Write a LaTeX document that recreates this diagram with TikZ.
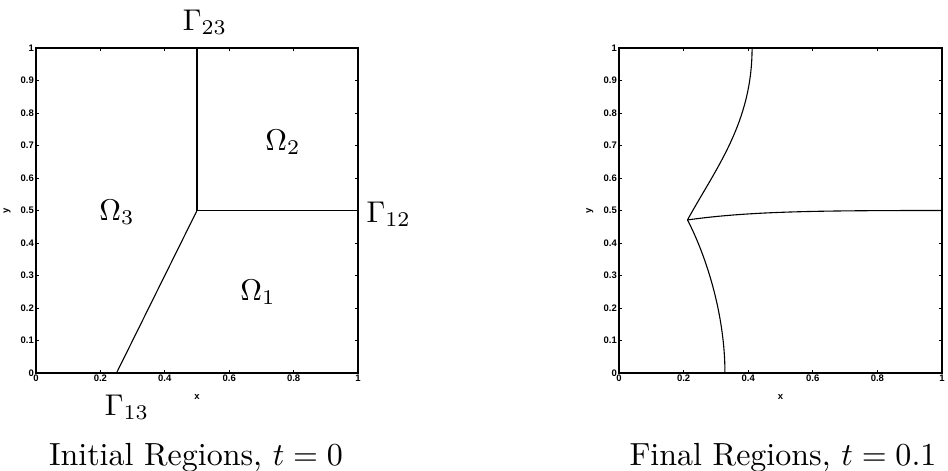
\documentclass[tikz,border=0pt]{standalone}
\usepackage{fontspec}
\newfontfamily\tickfont{Liberation Sans}
\begin{document}
\begin{tikzpicture}[x=1pt,y=-1pt,
  axisbox/.style={line width=1.4pt},
  curve/.style={line width=1.1pt},
  ticklab/.style={font=\tickfont\bfseries\fontsize{9.5}{10}\selectfont, inner sep=1pt},
  biglab/.style={scale=3.0, inner sep=0pt},
  caption/.style={scale=3.2, inner sep=0pt}]
\useasboundingbox (0,0) rectangle (948,471);
% ---------- left plot ----------
\begin{scope}[shift={(36pt,-373pt)}, x=322pt, y=325pt]
  \draw[axisbox] (0,0) rectangle (1,1);
  \foreach \t in {0.2,0.4,0.6,0.8} {
    \draw[line width=0.7pt] (\t,0) -- ++(0,3pt);
    \draw[line width=0.7pt] (\t,1) -- ++(0,-3pt);
  }
  \foreach \t in {0.1,0.2,...,0.91} {
    \draw[line width=0.7pt] (0,\t) -- ++(3pt,0);
    \draw[line width=0.7pt] (1,\t) -- ++(-3pt,0);
  }
  \foreach \t/\l in {0/0,0.2/0.2,0.4/0.4,0.6/0.6,0.8/0.8,1/1}
    \node[ticklab, below=1pt] (lx\l) at (\t,0) {\l};
  \foreach \t/\l in {0/0,0.1/0.1,0.2/0.2,0.3/0.3,0.4/0.4,0.5/0.5,0.6/0.6,0.7/0.7,0.8/0.8,0.9/0.9,1/1}
    \node[ticklab, left=1pt] (ly\l) at (0,\t) {\l};
  \node[ticklab] (lxl) at (0.5,-0.075) {x};
  \node[ticklab, rotate=90] (lyl) at (-0.09,0.5) {y};
  \coordinate (J) at (0.5,0.5);
  \coordinate (T) at (0.5,1);
  \coordinate (R) at (1,0.5);
  \coordinate (B) at (0.25,0);
  \draw[curve] (T) -- (J) -- (R);
  \draw[curve] (J) -- (B);
\end{scope}
\node[biglab, anchor=base] (g23) at (205,30) {$\Gamma_{23}$};
\node[biglab, anchor=base west] (g12) at (366,222) {$\Gamma_{12}$};
\node[biglab, anchor=base] (g13) at (127,415) {$\Gamma_{13}$};
\node[biglab, anchor=base] (o2) at (283,150) {$\Omega_2$};
\node[biglab, anchor=base] (o3) at (117,220) {$\Omega_3$};
\node[biglab, anchor=base] (o1) at (258,300) {$\Omega_1$};
\node[caption, anchor=base] (cap1) at (196,465) {Initial Regions, $t=0$};
% ---------- right plot ----------
\begin{scope}[shift={(619pt,-373pt)}, x=323pt, y=325pt]
  \draw[axisbox] (0,0) rectangle (1,1);
  \foreach \t in {0.2,0.4,0.6,0.8} {
    \draw[line width=0.7pt] (\t,0) -- ++(0,3pt);
    \draw[line width=0.7pt] (\t,1) -- ++(0,-3pt);
  }
  \foreach \t in {0.1,0.2,...,0.91} {
    \draw[line width=0.7pt] (0,\t) -- ++(3pt,0);
    \draw[line width=0.7pt] (1,\t) -- ++(-3pt,0);
  }
  \foreach \t/\l in {0/0,0.2/0.2,0.4/0.4,0.6/0.6,0.8/0.8,1/1}
    \node[ticklab, below=1pt] (rx\l) at (\t,0) {\l};
  \foreach \t/\l in {0/0,0.1/0.1,0.2/0.2,0.3/0.3,0.4/0.4,0.5/0.5,0.6/0.6,0.7/0.7,0.8/0.8,0.9/0.9,1/1}
    \node[ticklab, left=1pt] (ry\l) at (0,\t) {\l};
  \node[ticklab] (rxl) at (0.5,-0.075) {x};
  \node[ticklab, rotate=90] (ryl) at (-0.09,0.5) {y};
  \coordinate (RJ) at (0.212,0.471);
  \coordinate (RT) at (0.412,1);
  \coordinate (RR) at (1,0.5);
  \coordinate (RB) at (0.328,0);
  \draw[curve] (RJ) .. controls (0.30,0.63) and (0.412,0.77) .. (RT);
  \draw[curve] (RJ) .. controls (0.27,0.36) and (0.328,0.18) .. (RB);
  \draw[curve] (RJ) .. controls (0.4,0.497) and (0.6,0.5) .. (RR);
\end{scope}
\node[caption, anchor=base] (cap2) at (783,465) {Final Regions, $t=0.1$};
\end{tikzpicture}
\end{document}
